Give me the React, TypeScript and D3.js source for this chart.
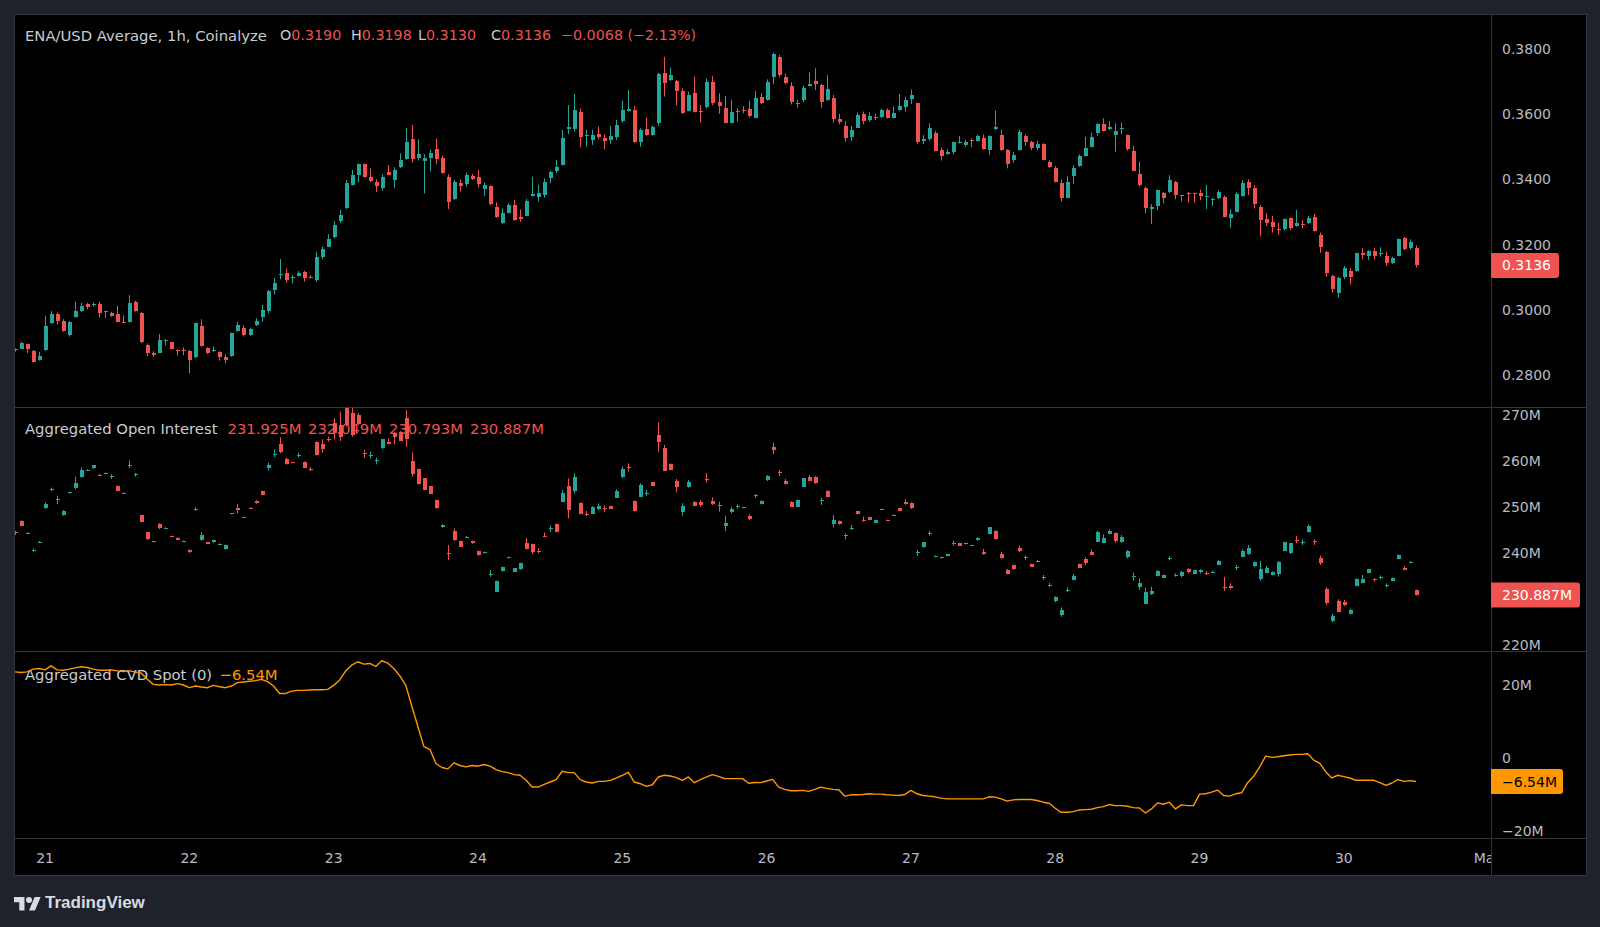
import React from "react";
import * as d3 from "d3";

// hourly ENA/USD candles [open, high, low, close], first bar 20 Apr 19:00 UTC
const priceOHLC: [number, number, number, number][] = [
  [0.2877, 0.2882, 0.2872, 0.288], [0.2881, 0.2902, 0.288, 0.2899], [0.2894, 0.2897, 0.2867, 0.288], [0.2874, 0.2877, 0.2838, 0.2841],
  [0.2846, 0.2871, 0.2844, 0.2859], [0.2877, 0.2982, 0.2874, 0.295], [0.2959, 0.2996, 0.2957, 0.2988], [0.2988, 0.2992, 0.2955, 0.2967],
  [0.2966, 0.2971, 0.2933, 0.2935], [0.2923, 0.2965, 0.2918, 0.2963], [0.2978, 0.3025, 0.2976, 0.2996], [0.2995, 0.3022, 0.2993, 0.3012],
  [0.3018, 0.3021, 0.3001, 0.301], [0.3016, 0.3022, 0.301, 0.3018], [0.3018, 0.3025, 0.2976, 0.2989], [0.2992, 0.2997, 0.2976, 0.2995],
  [0.2991, 0.2994, 0.2979, 0.2981], [0.2988, 0.3012, 0.2962, 0.2964], [0.2963, 0.2983, 0.2959, 0.2961], [0.2964, 0.3045, 0.2961, 0.302],
  [0.3023, 0.3028, 0.2994, 0.2996], [0.2991, 0.2993, 0.2898, 0.29], [0.2891, 0.2897, 0.2858, 0.2869], [0.2867, 0.2873, 0.2856, 0.286],
  [0.2869, 0.2926, 0.2867, 0.2907], [0.2904, 0.291, 0.2891, 0.2906], [0.29, 0.2902, 0.2879, 0.2881], [0.2876, 0.2878, 0.2859, 0.2874],
  [0.2878, 0.2885, 0.2861, 0.2875], [0.2874, 0.2877, 0.2805, 0.2846], [0.2854, 0.296, 0.2851, 0.2958], [0.295, 0.2971, 0.2887, 0.2889],
  [0.2883, 0.2885, 0.2865, 0.2867], [0.2876, 0.2887, 0.287, 0.2878], [0.2871, 0.2873, 0.2844, 0.2855], [0.2856, 0.2863, 0.2836, 0.2846],
  [0.2858, 0.293, 0.2856, 0.2928], [0.2935, 0.2963, 0.2933, 0.2953], [0.2945, 0.2953, 0.2918, 0.2923], [0.2923, 0.2945, 0.292, 0.2942],
  [0.2952, 0.2974, 0.295, 0.2966], [0.2979, 0.3015, 0.2964, 0.2999], [0.2997, 0.3061, 0.2989, 0.3059], [0.3061, 0.3097, 0.3047, 0.3081],
  [0.3107, 0.3156, 0.3093, 0.311], [0.3114, 0.3127, 0.3083, 0.3091], [0.31, 0.3106, 0.3081, 0.3102], [0.3104, 0.3119, 0.3102, 0.3114],
  [0.3117, 0.312, 0.3086, 0.3099], [0.3102, 0.3106, 0.3096, 0.31], [0.3091, 0.3178, 0.3086, 0.3163], [0.3163, 0.3194, 0.3155, 0.3185],
  [0.3194, 0.3232, 0.3192, 0.3216], [0.3222, 0.3272, 0.3219, 0.3259], [0.3273, 0.3306, 0.3266, 0.329], [0.3311, 0.3398, 0.3309, 0.3388],
  [0.3383, 0.3429, 0.3381, 0.3412], [0.3415, 0.3449, 0.3391, 0.3447], [0.3447, 0.3449, 0.3406, 0.3408], [0.3406, 0.3434, 0.3392, 0.3396],
  [0.3393, 0.34, 0.3362, 0.338], [0.3375, 0.3416, 0.3365, 0.3406], [0.3423, 0.3444, 0.3413, 0.3415], [0.3398, 0.3437, 0.3373, 0.3429],
  [0.3437, 0.348, 0.3435, 0.346], [0.3462, 0.3557, 0.346, 0.3514], [0.3524, 0.3567, 0.3451, 0.3463], [0.3466, 0.3523, 0.3458, 0.3479],
  [0.3457, 0.3477, 0.3357, 0.3466], [0.3466, 0.3492, 0.3424, 0.3482], [0.3492, 0.3525, 0.3447, 0.3462], [0.3466, 0.3473, 0.3417, 0.3419],
  [0.3408, 0.3416, 0.3309, 0.3332], [0.3339, 0.3398, 0.3337, 0.3391], [0.3388, 0.34, 0.3362, 0.338], [0.3386, 0.3421, 0.3378, 0.3414],
  [0.3411, 0.3417, 0.3398, 0.3402], [0.3408, 0.3429, 0.3375, 0.3386], [0.337, 0.3391, 0.3349, 0.3383], [0.338, 0.3382, 0.332, 0.3325],
  [0.3316, 0.333, 0.3282, 0.3284], [0.3265, 0.3311, 0.3263, 0.3298], [0.3298, 0.3327, 0.3296, 0.3322], [0.3322, 0.3337, 0.3273, 0.3276],
  [0.3286, 0.3308, 0.327, 0.3278], [0.3289, 0.334, 0.3287, 0.3333], [0.335, 0.3408, 0.3347, 0.3355], [0.3347, 0.3383, 0.3332, 0.3359],
  [0.3352, 0.3403, 0.3344, 0.3393], [0.3403, 0.3427, 0.3388, 0.3422], [0.3426, 0.346, 0.3419, 0.3439], [0.3445, 0.3552, 0.3443, 0.3527],
  [0.3556, 0.3628, 0.3539, 0.356], [0.3554, 0.3662, 0.3547, 0.3613], [0.3608, 0.3618, 0.3499, 0.3531], [0.3532, 0.3552, 0.3501, 0.3535],
  [0.3521, 0.3552, 0.3506, 0.3536], [0.3539, 0.3562, 0.3523, 0.3531], [0.3528, 0.3538, 0.3492, 0.3518], [0.3521, 0.3564, 0.3509, 0.3533],
  [0.3531, 0.3582, 0.3521, 0.3567], [0.3579, 0.3641, 0.3574, 0.3613], [0.3611, 0.3674, 0.3608, 0.3615], [0.3613, 0.3625, 0.3511, 0.3516],
  [0.3516, 0.3557, 0.35, 0.3552], [0.3554, 0.359, 0.3534, 0.3536], [0.3536, 0.3565, 0.3534, 0.3562], [0.3574, 0.3727, 0.3564, 0.3723],
  [0.3727, 0.3776, 0.3654, 0.3697], [0.3705, 0.3743, 0.3702, 0.3719], [0.3702, 0.3705, 0.3627, 0.3672], [0.3671, 0.3679, 0.3601, 0.3603],
  [0.3611, 0.3669, 0.3609, 0.3659], [0.3664, 0.3715, 0.3605, 0.3608], [0.3611, 0.3628, 0.3574, 0.3609], [0.3623, 0.371, 0.3618, 0.37],
  [0.37, 0.3717, 0.3628, 0.3633], [0.3638, 0.3664, 0.3601, 0.3626], [0.3618, 0.3656, 0.3572, 0.3574], [0.3574, 0.3644, 0.3572, 0.3608],
  [0.3608, 0.3618, 0.3577, 0.361], [0.3614, 0.3625, 0.3603, 0.3612], [0.3615, 0.3641, 0.359, 0.3595], [0.3589, 0.3671, 0.3587, 0.3651],
  [0.3652, 0.3664, 0.3631, 0.3633], [0.3644, 0.3707, 0.3642, 0.37], [0.3713, 0.3789, 0.3692, 0.3785], [0.3776, 0.3782, 0.3715, 0.372],
  [0.3713, 0.3725, 0.3692, 0.3697], [0.3688, 0.3698, 0.363, 0.3637], [0.3633, 0.3644, 0.362, 0.3635], [0.3643, 0.3687, 0.3637, 0.3681],
  [0.3687, 0.3728, 0.3685, 0.3693], [0.3701, 0.3741, 0.3674, 0.3694], [0.369, 0.3693, 0.362, 0.3637], [0.3644, 0.372, 0.3641, 0.3676],
  [0.3649, 0.3659, 0.3574, 0.3584], [0.3585, 0.3601, 0.3569, 0.3576], [0.3564, 0.3579, 0.3516, 0.3526], [0.3531, 0.3564, 0.3518, 0.3552],
  [0.3559, 0.3605, 0.3557, 0.3598], [0.3601, 0.3608, 0.3569, 0.358], [0.3582, 0.3606, 0.3577, 0.3595], [0.3592, 0.3601, 0.3582, 0.359],
  [0.359, 0.3616, 0.3588, 0.3613], [0.3613, 0.3618, 0.3587, 0.3589], [0.3589, 0.3623, 0.3587, 0.3605], [0.3613, 0.3662, 0.361, 0.3625],
  [0.3623, 0.3654, 0.3608, 0.3644], [0.3647, 0.3676, 0.3631, 0.3659], [0.3633, 0.3635, 0.3509, 0.3516], [0.3518, 0.3536, 0.3508, 0.3525],
  [0.3523, 0.3572, 0.3519, 0.3557], [0.3541, 0.3549, 0.3486, 0.3488], [0.349, 0.3498, 0.3458, 0.3472], [0.3477, 0.3493, 0.3475, 0.3485],
  [0.3485, 0.3516, 0.3477, 0.3514], [0.3512, 0.3533, 0.351, 0.3515], [0.3506, 0.3521, 0.3499, 0.3514], [0.3521, 0.3526, 0.3499, 0.3518],
  [0.3518, 0.3538, 0.3516, 0.3533], [0.3528, 0.3538, 0.3491, 0.3493], [0.349, 0.3535, 0.3475, 0.3533], [0.3556, 0.3611, 0.3552, 0.356],
  [0.3536, 0.3552, 0.3488, 0.349], [0.349, 0.3493, 0.3434, 0.3446], [0.346, 0.3485, 0.3451, 0.3475], [0.349, 0.3552, 0.3488, 0.3544],
  [0.3533, 0.3538, 0.3503, 0.3514], [0.3514, 0.3518, 0.349, 0.3495], [0.3495, 0.3519, 0.349, 0.3508], [0.3509, 0.3511, 0.3458, 0.346],
  [0.3454, 0.3458, 0.3434, 0.3439], [0.3434, 0.3441, 0.3391, 0.3393], [0.339, 0.34, 0.3332, 0.3344], [0.3344, 0.341, 0.3342, 0.3393],
  [0.3411, 0.3444, 0.3386, 0.3434], [0.3441, 0.3477, 0.3439, 0.3472], [0.3472, 0.3531, 0.347, 0.3497], [0.35, 0.3543, 0.3498, 0.3529],
  [0.3543, 0.3572, 0.3534, 0.357], [0.357, 0.3587, 0.3547, 0.3549], [0.3554, 0.3579, 0.3552, 0.3562], [0.3536, 0.3572, 0.3485, 0.355],
  [0.3555, 0.3575, 0.3539, 0.3557], [0.3536, 0.3538, 0.3488, 0.3492], [0.3487, 0.3503, 0.3425, 0.3427], [0.3417, 0.3454, 0.3378, 0.3383],
  [0.3375, 0.3378, 0.3296, 0.3313], [0.331, 0.3324, 0.3263, 0.3316], [0.3318, 0.3369, 0.3306, 0.3367], [0.3359, 0.3362, 0.3327, 0.3344],
  [0.336, 0.3413, 0.3358, 0.3398], [0.3393, 0.3395, 0.3339, 0.3352], [0.3349, 0.3352, 0.3332, 0.3351], [0.3357, 0.3362, 0.3329, 0.3354],
  [0.3358, 0.3359, 0.3329, 0.3355], [0.3357, 0.3369, 0.3337, 0.3349], [0.3346, 0.3383, 0.3309, 0.3348], [0.3337, 0.3344, 0.3319, 0.3339],
  [0.3344, 0.3367, 0.334, 0.3362], [0.3345, 0.335, 0.3283, 0.3286], [0.3281, 0.3308, 0.3252, 0.3293], [0.3301, 0.3362, 0.3299, 0.3354],
  [0.3349, 0.3398, 0.3347, 0.339], [0.3391, 0.34, 0.3352, 0.3373], [0.3375, 0.3383, 0.3311, 0.3324], [0.3316, 0.3321, 0.3226, 0.3275],
  [0.3278, 0.3296, 0.3257, 0.3267], [0.327, 0.3288, 0.3237, 0.3253], [0.3249, 0.3267, 0.323, 0.3247], [0.3247, 0.328, 0.3243, 0.3278],
  [0.3281, 0.3283, 0.3245, 0.325], [0.3258, 0.3306, 0.3255, 0.3265], [0.3262, 0.3275, 0.325, 0.326], [0.3265, 0.3288, 0.3263, 0.3281],
  [0.3284, 0.3294, 0.324, 0.3242], [0.3229, 0.3237, 0.3175, 0.3194], [0.3178, 0.3181, 0.3102, 0.3114], [0.3105, 0.3107, 0.3053, 0.3063],
  [0.3053, 0.3101, 0.3037, 0.3099], [0.3102, 0.3134, 0.3094, 0.3127], [0.312, 0.3127, 0.3078, 0.3102], [0.312, 0.3175, 0.3117, 0.3173],
  [0.3175, 0.3189, 0.3155, 0.3168], [0.3166, 0.3183, 0.3153, 0.3181], [0.3181, 0.3189, 0.3155, 0.3165], [0.3172, 0.3192, 0.3163, 0.3174],
  [0.3165, 0.3178, 0.3135, 0.3145], [0.3143, 0.3163, 0.3141, 0.3158], [0.3166, 0.3219, 0.3164, 0.3216], [0.3221, 0.3224, 0.3183, 0.3185],
  [0.3189, 0.3216, 0.3184, 0.3209], [0.319, 0.3198, 0.313, 0.3136],
];

// aggregated open interest candles, millions [open, high, low, close]
const oiOHLC: [number, number, number, number][] = [
  [244.49, 244.78, 243.91, 244.27], [246.95, 247.1, 245.8, 245.94], [244.35, 244.5, 244.1, 244.2], [240.58, 241.01, 240.29, 240.72],
  [242.32, 242.6, 242.2, 242.46], [249.71, 251.01, 249.6, 250.65], [253.84, 254.2, 253.48, 253.69], [251.74, 252.46, 250.65, 251.59],
  [248.19, 249.3, 248.1, 249.2], [253.04, 253.3, 252.9, 253.19], [254.06, 256.59, 253.84, 255.21], [256.52, 258.62, 256.4, 258.04],
  [257.9, 258.2, 257.8, 258.04], [258.4, 259.1, 258.3, 259.05], [257.03, 257.2, 256.8, 256.88], [257.17, 257.5, 257.1, 257.32],
  [256.59, 257.1, 256.08, 256.74], [254.63, 254.7, 253.4, 253.48], [252.97, 253.2, 252.9, 253.12], [259.05, 260.14, 258.4, 258.91],
  [256.95, 257.39, 256.59, 257.1], [248.19, 248.3, 246.7, 246.81], [244.56, 244.6, 242.82, 243.04], [242.53, 242.6, 242.3, 242.39],
  [246.37, 246.5, 245.2, 245.36], [245.36, 245.6, 245.3, 245.5], [243.7, 243.8, 243.45, 243.55], [243.33, 243.4, 242.8, 242.9],
  [242.61, 242.7, 242.4, 242.46], [240.72, 240.8, 240.0, 240.14], [249.56, 249.92, 249.2, 249.42], [242.82, 244.56, 242.7, 243.91],
  [242.32, 242.4, 241.9, 242.03], [242.32, 242.9, 242.2, 242.82], [241.81, 242.1, 241.7, 241.95], [240.87, 241.8, 240.7, 241.74],
  [248.62, 248.7, 248.4, 248.48], [249.78, 250.65, 248.62, 249.27], [247.68, 247.9, 247.6, 247.82], [249.85, 249.95, 249.6, 249.71],
  [251.37, 251.45, 250.7, 250.79], [253.48, 253.55, 252.6, 252.68], [258.4, 259.63, 257.9, 259.13], [261.37, 262.53, 260.87, 261.52],
  [263.62, 265.14, 261.66, 262.03], [260.36, 260.72, 259.2, 259.27], [259.71, 259.8, 259.5, 259.56], [261.16, 261.81, 260.79, 261.3],
  [259.85, 259.9, 258.45, 258.55], [258.33, 258.69, 257.82, 258.19], [264.2, 264.3, 261.2, 261.3], [263.62, 264.71, 261.81, 262.53],
  [264.85, 265.29, 264.2, 264.71], [268.18, 269.27, 264.71, 266.01], [267.82, 270.72, 264.35, 265.14], [272.6, 273.5, 267.5, 267.82],
  [270.36, 271.8, 265.29, 265.65], [270.0, 270.5, 267.8, 267.97], [261.74, 262.39, 260.72, 261.59], [261.08, 262.03, 260.58, 261.23],
  [260.0, 260.72, 259.27, 260.14], [262.75, 264.8, 262.6, 264.71], [264.05, 264.92, 263.6, 263.69], [266.01, 266.37, 263.62, 265.29],
  [266.37, 266.5, 264.3, 264.42], [269.42, 271.08, 263.11, 264.71], [260.0, 261.88, 256.59, 257.1], [258.19, 258.3, 254.9, 255.0],
  [256.23, 256.3, 253.6, 253.69], [254.56, 254.6, 252.8, 252.9], [251.52, 251.6, 249.6, 249.71], [245.58, 246.2, 245.5, 246.09],
  [239.99, 241.74, 238.48, 239.85], [244.85, 245.36, 242.6, 242.75], [242.61, 242.7, 241.3, 241.38], [243.4, 243.7, 243.3, 243.55],
  [242.61, 242.7, 242.0, 242.1], [240.43, 240.5, 239.4, 239.49], [239.99, 240.3, 239.85, 240.14], [235.36, 236.3, 234.85, 235.51],
  [231.59, 234.0, 231.5, 233.91], [236.09, 237.0, 236.0, 236.88], [238.91, 239.2, 238.8, 239.06], [235.94, 236.75, 235.85, 236.67],
  [236.45, 237.85, 236.35, 237.75], [242.24, 243.19, 240.8, 240.87], [241.95, 242.0, 239.78, 240.21], [240.5, 241.01, 239.93, 240.36],
  [243.7, 244.42, 243.45, 243.55], [245.29, 245.94, 244.56, 245.43], [246.3, 246.4, 244.5, 244.56], [251.16, 253.69, 251.1, 252.97],
  [254.56, 256.23, 247.53, 249.35], [253.48, 257.32, 252.97, 256.45], [250.94, 251.0, 248.4, 248.48], [248.55, 249.13, 248.04, 248.41],
  [248.55, 250.15, 248.45, 250.07], [249.56, 250.79, 249.35, 250.29], [249.71, 250.29, 248.98, 249.56], [250.22, 250.3, 249.55, 249.64],
  [252.03, 253.84, 251.95, 253.48], [256.59, 258.77, 256.23, 258.26], [258.77, 259.49, 257.68, 258.62], [251.3, 251.4, 249.0, 249.13],
  [252.24, 255.14, 252.15, 254.78], [252.9, 253.69, 252.39, 253.04], [255.36, 255.45, 254.55, 254.63], [265.65, 268.4, 262.03, 264.2],
  [262.9, 263.48, 257.8, 257.9], [259.42, 259.5, 258.0, 258.11], [255.65, 256.08, 253.19, 254.42], [248.91, 250.79, 248.11, 250.22],
  [254.27, 255.87, 254.2, 255.43], [251.16, 251.25, 250.15, 250.22], [251.16, 251.52, 250.07, 250.36], [256.16, 257.32, 255.36, 256.01],
  [251.37, 252.1, 250.43, 250.72], [250.36, 251.16, 248.98, 250.22], [245.94, 248.11, 244.78, 246.59], [248.98, 250.07, 248.62, 249.56],
  [250.0, 250.58, 249.56, 250.14], [249.92, 250.0, 249.7, 249.78], [248.04, 248.41, 247.17, 247.32], [252.53, 252.82, 252.03, 252.39],
  [250.65, 251.45, 250.55, 251.37], [255.87, 256.95, 255.65, 256.74], [262.97, 263.98, 261.52, 262.32], [257.53, 258.04, 256.74, 257.39],
  [255.65, 256.08, 254.9, 255.0], [251.16, 251.25, 250.0, 250.07], [250.07, 251.6, 250.0, 251.52], [254.42, 256.3, 254.35, 256.23],
  [256.45, 256.95, 255.65, 255.72], [256.59, 256.7, 255.05, 255.14], [251.3, 252.03, 250.43, 251.45], [253.55, 253.65, 252.15, 252.24],
  [246.3, 248.26, 245.58, 247.17], [246.95, 247.05, 246.15, 246.23], [243.7, 244.27, 242.97, 243.84], [245.29, 246.09, 245.0, 245.43],
  [249.13, 249.2, 248.4, 248.48], [247.17, 247.9, 246.81, 247.03], [247.75, 247.85, 247.1, 247.17], [246.59, 247.25, 246.5, 247.17],
  [249.56, 249.65, 249.35, 249.42], [247.17, 247.25, 246.95, 247.03], [248.33, 248.4, 248.1, 248.19], [249.71, 249.8, 249.1, 249.2],
  [251.16, 251.66, 250.5, 250.58], [250.94, 251.0, 249.6, 249.71], [240.07, 240.65, 239.42, 240.21], [241.23, 242.4, 241.15, 242.32],
  [244.35, 244.85, 243.77, 244.2], [239.2, 239.5, 239.1, 239.35], [238.91, 239.2, 238.8, 239.06], [239.35, 239.85, 239.25, 239.78],
  [242.1, 242.68, 241.59, 242.24], [242.1, 242.2, 241.5, 241.59], [242.1, 242.2, 241.85, 241.95], [241.74, 241.8, 241.5, 241.59],
  [242.75, 243.4, 242.65, 243.33], [240.29, 240.87, 239.6, 239.71], [244.13, 245.65, 244.05, 245.58], [244.85, 244.95, 242.9, 242.97],
  [239.85, 240.29, 238.75, 238.84], [236.23, 236.52, 235.35, 235.43], [237.39, 237.45, 236.35, 236.45], [241.16, 241.66, 240.14, 240.43],
  [238.98, 239.49, 238.48, 239.13], [237.61, 237.7, 236.95, 237.03], [238.26, 238.48, 237.97, 238.11], [234.78, 235.22, 234.13, 234.64],
  [233.04, 233.48, 232.68, 232.9], [229.49, 230.6, 229.28, 230.51], [226.52, 228.19, 226.16, 227.61], [231.88, 232.53, 231.52, 232.03],
  [234.13, 235.43, 234.05, 235.0], [237.61, 237.7, 236.75, 236.81], [238.62, 239.06, 237.32, 237.75], [240.21, 240.8, 239.55, 239.64],
  [242.46, 244.78, 242.4, 244.49], [242.24, 244.06, 242.15, 243.33], [244.13, 245.14, 244.05, 244.78], [244.27, 244.49, 242.24, 242.68],
  [242.46, 243.91, 242.24, 243.55], [239.06, 240.6, 238.84, 240.5], [234.93, 235.72, 233.98, 235.07], [232.68, 234.49, 231.96, 233.4],
  [228.98, 232.46, 228.9, 231.52], [231.09, 232.68, 230.87, 231.81], [235.0, 236.3, 234.9, 236.09], [234.64, 235.3, 234.55, 235.22],
  [238.77, 239.35, 238.4, 238.91], [235.14, 235.58, 234.85, 235.29], [235.0, 236.09, 234.71, 235.8], [236.45, 236.67, 235.58, 235.8],
  [235.51, 236.3, 235.45, 236.23], [235.8, 236.45, 235.58, 236.38], [235.72, 236.09, 235.22, 235.58], [235.72, 236.16, 235.65, 235.87],
  [237.46, 238.48, 237.4, 238.26], [232.61, 234.85, 231.81, 232.46], [232.82, 233.4, 232.17, 232.32], [236.81, 237.39, 236.3, 236.96],
  [239.2, 240.8, 239.1, 240.43], [239.71, 241.74, 239.6, 241.16], [237.17, 238.1, 236.88, 238.04], [234.27, 238.26, 233.98, 236.59],
  [235.72, 237.17, 235.65, 236.74], [235.22, 236.0, 235.15, 235.94], [235.43, 238.26, 234.85, 238.04], [240.5, 242.45, 240.45, 242.39],
  [240.07, 242.15, 239.78, 242.1], [242.82, 243.7, 242.1, 242.68], [242.24, 242.97, 241.74, 242.39], [244.49, 246.16, 244.4, 245.94],
  [242.53, 243.04, 241.74, 242.39], [238.84, 239.42, 237.39, 237.75], [232.1, 232.53, 228.7, 229.06], [225.29, 226.74, 224.93, 226.38],
  [229.56, 229.93, 227.15, 227.25], [229.42, 229.78, 228.48, 228.7], [226.74, 227.9, 226.65, 227.54], [232.82, 234.49, 232.75, 234.35],
  [233.55, 235.22, 233.45, 234.35], [235.65, 236.5, 235.6, 236.45], [234.27, 234.49, 233.77, 234.13], [234.64, 235.14, 234.27, 234.78],
  [232.82, 233.4, 232.53, 232.97], [233.98, 234.7, 233.9, 234.64], [238.77, 239.71, 238.7, 239.49], [236.81, 237.1, 236.25, 236.3],
  [237.9, 238.19, 237.75, 238.04], [231.925, 232.049, 230.793, 230.887],
];

// aggregated spot CVD, millions, one value per hour
const cvdSpot: number[] = [
  23.61, 23.42, 23.61, 24.35, 24.53, 24.16, 25.27, 24.16, 24.07, 24.35, 24.72, 25.0, 24.81, 24.35, 24.07, 24.07,
  24.16, 23.89, 23.7, 23.89, 23.61, 23.24, 21.57, 20.18, 20.0, 20.09, 20.0, 20.37, 20.0, 19.26, 19.72, 19.44,
  19.26, 19.9, 19.53, 19.26, 19.72, 20.64, 20.83, 21.02, 21.2, 21.57, 20.92, 19.72, 17.68, 17.68, 18.33, 18.51,
  18.51, 18.61, 18.7, 18.7, 18.79, 19.9, 21.39, 23.89, 25.46, 26.39, 25.74, 25.92, 25.09, 26.66, 26.0, 24.53,
  22.5, 19.9, 14.16, 8.61, 3.05, 2.31, -1.58, -2.69, -3.06, -1.39, -2.13, -2.5, -2.13, -2.32, -1.86, -2.32,
  -3.25, -3.8, -4.08, -4.63, -4.82, -6.21, -8.06, -8.06, -7.32, -6.67, -6.02, -3.71, -4.08, -4.08, -6.02, -6.67,
  -6.95, -6.49, -6.49, -6.21, -5.56, -4.82, -3.99, -6.67, -7.14, -7.88, -7.41, -5.28, -4.82, -5.01, -5.47, -6.21,
  -5.28, -6.86, -6.02, -5.28, -4.63, -5.1, -5.75, -5.75, -5.75, -5.75, -7.0, -6.8, -6.85, -6.39, -5.93, -8.06,
  -8.7, -9.07, -9.07, -8.98, -9.26, -8.7, -8.06, -8.43, -8.7, -8.8, -10.56, -10.19, -10.19, -10.09, -9.91, -10.0,
  -10.0, -10.19, -10.28, -10.37, -10.09, -8.98, -9.91, -10.37, -10.56, -10.74, -11.11, -11.3, -11.3, -11.3, -11.3, -11.3,
  -11.3, -11.3, -10.74, -10.83, -11.3, -11.94, -11.57, -11.48, -11.48, -11.48, -11.76, -12.22, -12.5, -13.89, -15.0, -15.0,
  -14.81, -14.35, -14.26, -14.17, -13.7, -13.43, -12.87, -13.15, -13.15, -13.33, -13.7, -13.8, -15.19, -14.07, -12.41, -12.78,
  -12.22, -14.07, -12.96, -13.15, -13.15, -10.0, -9.91, -9.44, -8.89, -10.37, -10.56, -9.91, -9.63, -6.85, -5.09, -2.5,
  0.46, 0.09, 0.28, 0.56, 0.74, 0.93, 0.93, 1.11, -0.65, -1.57, -3.89, -5.56, -4.81, -5.19, -5.56, -6.2,
  -6.2, -6.2, -6.2, -6.85, -7.59, -6.94, -6.02, -6.48, -6.3, -6.54,
];

const priceTicks = [0.28, 0.3, 0.32, 0.34, 0.36, 0.38];
const oiTicks = [220, 240, 250, 260, 270]; // 230M sits under the last-value tag
const cvdTicks = [-20, 0, 20];
const cvdTickLabels = ["\u221220M", "0", "20M"];
const dayTickLabels = ["21", "22", "23", "24", "25", "26", "27", "28", "29", "30", "May"];

const priceHeader = { o: "0.3190", h: "0.3198", l: "0.3130", c: "0.3136", chg: "\u22120.0068 (\u22122.13%)" };
const oiHeader = ["231.925M", "232.049M", "230.793M", "230.887M"];
const cvdHeader = "\u22126.54M";

const UP = "#26a69a";
const DOWN = "#ef5350";
const CVD_COLOR = "#ff9800";
const TEXT = "#c9ccd3";
const AXIS_TEXT = "#b8bbc3";
const LINE = "#30343f";
const FONT = "'DejaVu Sans', sans-serif";

// layout
const W = 1600;
const H = 927;
const frame = { left: 14, top: 14, right: 1586, bottom: 875 };
const axisX = 1491;
const pricePane = { top: 14, bottom: 407 };
const oiPane = { top: 407, bottom: 651 };
const cvdPane = { top: 651, bottom: 838 };

const HOUR = 3600 * 1000;
const t0 = Date.UTC(2025, 3, 20, 19);
const times = priceOHLC.map((_, i) => new Date(t0 + i * HOUR));

const x = d3.scaleUtc().domain([times[0], times[times.length - 1]]).range([15, 1416]);
const yPrice = d3.scaleLinear().domain([0.28, 0.38]).range([375, 49]);
const yOi = d3.scaleLinear().domain([220, 270]).range([645, 415]);
const yCvd = d3.scaleLinear().domain([-20, 20]).range([830.5, 685]);

const dayTicks = d3.utcDay.range(new Date(Date.UTC(2025, 3, 21)), new Date(Date.UTC(2025, 4, 2)));

const Candles = ({ data, y, clip }: { data: [number, number, number, number][]; y: d3.ScaleLinear<number, number>; clip: string }) => (
  <g clipPath={`url(#${clip})`}>
    {data.map((d, i) => {
      const [o, h, l, c] = d;
      const cx = Math.round(x(times[i]));
      const col = c >= o ? UP : DOWN;
      const top = Math.round(y(Math.max(o, c)));
      const bot = Math.round(y(Math.min(o, c)));
      return (
        <g key={i}>
          <line x1={cx + 0.5} x2={cx + 0.5} y1={y(h)} y2={y(l)} stroke={col} strokeWidth={1} />
          <rect x={cx - 1.5} y={top} width={4} height={Math.max(1, bot - top)} fill={col} shapeRendering="crispEdges" />
        </g>
      );
    })}
  </g>
);

const ValueTag = ({ y, text, bg, fg, width }: { y: number; text: string; bg: string; fg: string; width: number }) => (
  <g>
    <path d={`M${axisX},${y - 12.5}h${width - 3}a3,3 0 0 1 3,3v19a3,3 0 0 1 -3,3h${-(width - 3)}z`} fill={bg} />
    <text x={axisX + 11} y={y} dominantBaseline="central" fill={fg} fontSize={14} fontFamily={FONT}>
      {text}
    </text>
  </g>
);

export default function App() {
  const cvdLine = d3
    .line<number>()
    .x((_, i) => x(times[i]))
    .y((d) => yCvd(d))(cvdSpot);

  const last = priceOHLC[priceOHLC.length - 1][3];
  const lastOi = oiOHLC[oiOHLC.length - 1][3];
  const lastCvd = cvdSpot[cvdSpot.length - 1];

  return (
    <svg width={W} height={H} style={{ position: "absolute", left: 0, top: 0, display: "block" }}>
      <defs>
        <clipPath id="clip-price">
          <rect x={frame.left} y={pricePane.top} width={axisX - frame.left} height={pricePane.bottom - pricePane.top} />
        </clipPath>
        <clipPath id="clip-oi">
          <rect x={frame.left} y={oiPane.top + 1} width={axisX - frame.left} height={oiPane.bottom - oiPane.top - 1} />
        </clipPath>
        <clipPath id="clip-cvd">
          <rect x={frame.left} y={cvdPane.top + 1} width={axisX - frame.left} height={cvdPane.bottom - cvdPane.top - 1} />
        </clipPath>
        <clipPath id="clip-time">
          <rect x={frame.left} y={cvdPane.bottom} width={axisX - frame.left} height={frame.bottom - cvdPane.bottom} />
        </clipPath>
      </defs>

      <rect width={W} height={H} fill="#1f212b" />
      <rect x={frame.left} y={frame.top} width={frame.right - frame.left} height={frame.bottom - frame.top} fill="#000" />

      {/* pane titles (drawn under the marks) */}
      <g fontFamily={FONT} fontSize={14.8} dominantBaseline="central">
        <text x={25} y={35} fill={TEXT}>ENA/USD Average, 1h, Coinalyze</text>
        <g fontSize={14.3}>
          <text x={280} y={35}><tspan fill={TEXT}>O</tspan><tspan fill={DOWN}>{priceHeader.o}</tspan></text>
          <text x={351} y={35}><tspan fill={TEXT}>H</tspan><tspan fill={DOWN}>{priceHeader.h}</tspan></text>
          <text x={418} y={35}><tspan fill={TEXT}>L</tspan><tspan fill={DOWN}>{priceHeader.l}</tspan></text>
          <text x={491} y={35}><tspan fill={TEXT}>C</tspan><tspan fill={DOWN}>{priceHeader.c}</tspan></text>
          <text x={561} y={35} fill={DOWN}>{priceHeader.chg}</text>
        </g>

        <text x={25} y={428.5} fill={TEXT}>Aggregated Open Interest</text>
        {oiHeader.map((s, i) => (
          <text key={s + i} x={[227.5, 308, 389, 470][i]} y={428.5} fill={DOWN}>{s}</text>
        ))}

        <text x={25} y={674.5} fill={TEXT}>Aggregated CVD Spot (0)</text>
        <text x={219.5} y={674.5} fill={CVD_COLOR}>{cvdHeader}</text>
      </g>

      <Candles data={priceOHLC} y={yPrice} clip="clip-price" />
      <Candles data={oiOHLC} y={yOi} clip="clip-oi" />
      <g clipPath="url(#clip-cvd)">
        <path d={cvdLine ?? ""} fill="none" stroke={CVD_COLOR} strokeWidth={1.4} strokeLinejoin="round" />
      </g>

      {/* separators */}
      <g stroke={LINE} strokeWidth={1} shapeRendering="crispEdges">
        <line x1={frame.left} x2={frame.right} y1={oiPane.top} y2={oiPane.top} />
        <line x1={frame.left} x2={frame.right} y1={cvdPane.top} y2={cvdPane.top} />
        <line x1={frame.left} x2={frame.right} y1={cvdPane.bottom} y2={cvdPane.bottom} />
        <line x1={axisX} x2={axisX} y1={frame.top} y2={frame.bottom} />
        <rect x={frame.left} y={frame.top} width={frame.right - frame.left} height={frame.bottom - frame.top} fill="none" />
      </g>

      {/* right scales */}
      <g fontFamily={FONT} fontSize={14} fill={AXIS_TEXT} dominantBaseline="central">
        {priceTicks.map((t) => (
          <text key={"p" + t} x={1502} y={yPrice(t)}>{d3.format(".4f")(t)}</text>
        ))}
        {oiTicks.map((t) => (
          <text key={"o" + t} x={1502} y={yOi(t)}>{`${t}M`}</text>
        ))}
        {cvdTicks.map((t, i) => (
          <text key={"c" + t} x={1502} y={yCvd(t)}>{cvdTickLabels[i]}</text>
        ))}
      </g>

      <ValueTag y={yPrice(last)} text={d3.format(".4f")(last)} bg={DOWN} fg="#ffffff" width={68} />
      <ValueTag y={yOi(lastOi)} text={`${d3.format(".3f")(lastOi)}M`} bg={DOWN} fg="#ffffff" width={89} />
      <ValueTag y={yCvd(lastCvd)} text={cvdHeader} bg={CVD_COLOR} fg="#000000" width={72} />

      {/* time scale */}
      <g clipPath="url(#clip-time)" fontFamily={FONT} fontSize={14} fill={AXIS_TEXT} textAnchor="middle" dominantBaseline="central">
        {dayTicks.map((d, i) => (
          <text key={i} x={x(d)} y={858}>{dayTickLabels[i]}</text>
        ))}
      </g>

      {/* TradingView mark */}
      <g transform="translate(14,894) scale(0.75)" fill="#d9dbe0">
        <path d="M14 22H7V11H0V4h14v18zM28 22h-8l7.5-18h8L28 22z" />
        <circle cx={20} cy={8} r={4} />
      </g>
      <text x={45} y={902} dominantBaseline="central" fontFamily="'Liberation Sans', sans-serif" fontWeight={700} fontSize={17} fill="#d9dbe0">
        TradingView
      </text>
    </svg>
  );
}
